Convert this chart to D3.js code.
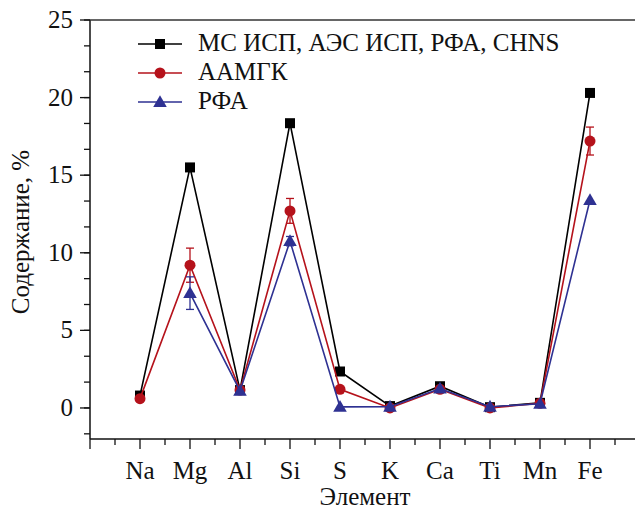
<!DOCTYPE html>
<html>
<head>
<meta charset="utf-8">
<script src="https://cdn.jsdelivr.net/npm/d3@7"></script>
<style>
  body { margin: 0; background: #fff; }
  svg { display: block; }
</style>
</head>
<body>
<svg id="chart" width="635" height="511"></svg>
<script>
// element categories (x positions 1..10)
const elements = ["Na", "Mg", "Al", "Si", "S", "K", "Ca", "Ti", "Mn", "Fe"];

// МС ИСП, АЭС ИСП, РФА, CHNS
const msValues = [0.8, 15.5, 1.15, 18.35, 2.35, 0.12, 1.4, 0.05, 0.33, 20.3];
// ААМГК
const aamgkValues = [0.6, 9.2, 1.15, 12.7, 1.2, 0.0, 1.2, 0.0, 0.3, 17.2];
const aamgkErr = [null, 1.1, null, 0.8, null, null, null, null, null, 0.9];
// РФА (no Na)
const rfaValues = [null, 7.4, 1.1, 10.75, 0.07, 0.08, 1.25, 0.08, 0.27, 13.4];
const rfaErr = [null, 1.05, null, 0.3, null, null, null, null, null, null];

const seriesNames = ["МС ИСП, АЭС ИСП, РФА, CHNS", "ААМГК", "РФА"];
const yTicks = [0, 5, 10, 15, 20, 25];

const FONT = "'Liberation Serif', 'Tinos', serif";
const BASE = 20;
const SCALE = 1.25;

const svg = d3.select("#chart");

const x = d3.scaleLinear().domain([0, 11]).range([90, 640]);
const y = d3.scaleLinear().domain([-2, 25]).range([439, 20]);

const series = [
  { name: seriesNames[0], values: msValues, err: null, color: "#000000", marker: "square" },
  { name: seriesNames[1], values: aamgkValues, err: aamgkErr, color: "#b5121b", marker: "circle" },
  { name: seriesNames[2], values: rfaValues, err: rfaErr, color: "#2e3192", marker: "triangle" }
];

function drawMarker(g, kind, color, cx, cy) {
  if (kind === "square") {
    g.append("rect").attr("x", cx - 5).attr("y", cy - 5)
      .attr("width", 10).attr("height", 10).attr("fill", color);
  } else if (kind === "circle") {
    g.append("circle").attr("cx", cx).attr("cy", cy).attr("r", 5.5).attr("fill", color);
  } else {
    const s = d3.symbol().type(d3.symbolTriangle).size(80);
    g.append("path").attr("d", s()).attr("transform", `translate(${cx},${cy + 1})`)
      .attr("fill", color);
  }
}

function addText(g, str, tx, ty, anchor, rot) {
  return g.append("g")
    .attr("transform", `translate(${tx},${ty}) rotate(${rot || 0}) scale(${SCALE})`)
    .append("text")
    .attr("text-anchor", anchor || "start")
    .style("font-family", FONT)
    .style("font-size", BASE + "px")
    .attr("fill", "#111")
    .text(str);
}

// axes
const yMinor = d3.range(-1, 16).map(i => i * 5 / 3).filter(v => v >= -2 && v <= 25);
const yAxisG = svg.append("g");
yAxisG.selectAll("line.minor").data(yMinor).join("line")
  .attr("x1", 84).attr("x2", 90)
  .attr("y1", d => y(d)).attr("y2", d => y(d))
  .attr("stroke", "#111").attr("stroke-width", 1.3);
yAxisG.selectAll("line.major").data(yTicks).join("line")
  .attr("x1", 80).attr("x2", 90)
  .attr("y1", d => y(d)).attr("y2", d => y(d))
  .attr("stroke", "#111").attr("stroke-width", 1.3);
yTicks.forEach(t => addText(yAxisG, t, 73, y(t) + 8, "end"));

const xMajor = d3.range(0, 11);
const xMinor = d3.range(0, 11).map(i => i + 0.5);
const xAxisG = svg.append("g");
xAxisG.selectAll("line.minor").data(xMinor).join("line")
  .attr("x1", d => x(d)).attr("x2", d => x(d))
  .attr("y1", 439).attr("y2", 445)
  .attr("stroke", "#111").attr("stroke-width", 1.3);
xAxisG.selectAll("line.major").data(xMajor).join("line")
  .attr("x1", d => x(d)).attr("x2", d => x(d))
  .attr("y1", 439).attr("y2", 449)
  .attr("stroke", "#111").attr("stroke-width", 1.3);
elements.forEach((el, i) => addText(xAxisG, el, x(i + 1), 479, "middle"));

// spines
svg.append("line").attr("x1", 90).attr("x2", 90).attr("y1", 20).attr("y2", 439)
  .attr("stroke", "#111").attr("stroke-width", 1.5);
svg.append("line").attr("x1", 90).attr("x2", 640).attr("y1", 439).attr("y2", 439)
  .attr("stroke", "#111").attr("stroke-width", 1.5);
svg.append("line").attr("x1", 90).attr("x2", 640).attr("y1", 20).attr("y2", 20)
  .attr("stroke", "#333").attr("stroke-width", 1.5);

// axis titles
addText(svg, "Содержание, %", 29, 232, "middle", -90);
addText(svg, "Элемент", 365, 505, "middle");

// series
const line = d3.line()
  .defined(d => d.v !== null)
  .x(d => x(d.i + 1))
  .y(d => y(d.v));

series.forEach(s => {
  const g = svg.append("g");
  const pts = s.values.map((v, i) => ({ v, i }));
  g.append("path").datum(pts)
    .attr("d", line)
    .attr("fill", "none")
    .attr("stroke", s.color)
    .attr("stroke-width", 1.6);
  if (s.err) {
    pts.forEach(p => {
      const e = s.err[p.i];
      if (e === null || p.v === null) return;
      const cx = x(p.i + 1);
      g.append("line").attr("x1", cx).attr("x2", cx)
        .attr("y1", y(p.v - e)).attr("y2", y(p.v + e))
        .attr("stroke", s.color).attr("stroke-width", 1.3);
      [p.v - e, p.v + e].forEach(v => {
        g.append("line").attr("x1", cx - 4).attr("x2", cx + 4)
          .attr("y1", y(v)).attr("y2", y(v))
          .attr("stroke", s.color).attr("stroke-width", 1.3);
      });
    });
  }
  pts.filter(p => p.v !== null).forEach(p => drawMarker(g, s.marker, s.color, x(p.i + 1), y(p.v)));
});

// legend
const legend = svg.append("g");
series.forEach((s, k) => {
  const ly = 44 + k * 29;
  legend.append("line").attr("x1", 138).attr("x2", 182).attr("y1", ly).attr("y2", ly)
    .attr("stroke", s.color).attr("stroke-width", 1.6);
  drawMarker(legend, s.marker, s.color, 160, ly);
  addText(legend, s.name, 198, ly + 7, "start");
});
</script>
</body>
</html>
